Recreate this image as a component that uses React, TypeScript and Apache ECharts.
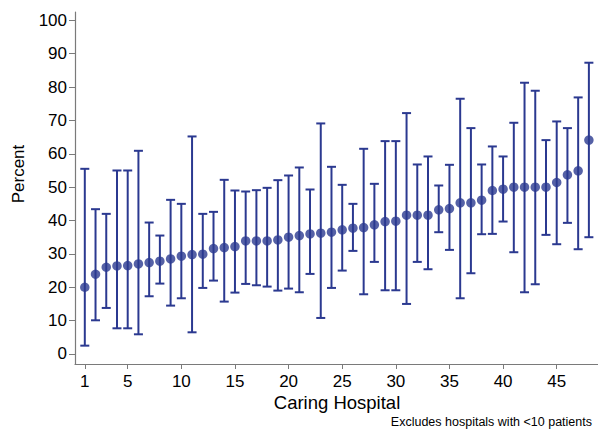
import React, { useEffect, useRef } from "react";
import * as echarts from "echarts";

// Hospital index (ordered by estimated percentage)
const hospitals = [
  1, 2, 3, 4, 5, 6, 7, 8, 9, 10, 11, 12, 13, 14, 15, 16, 17, 18, 19, 20, 21, 22, 23, 24,
  25, 26, 27, 28, 29, 30, 31, 32, 33, 34, 35, 36, 37, 38, 39, 40, 41, 42, 43, 44, 45, 46, 47, 48,
];

// Point estimates (percent)
const estimate = [
  20.0, 23.9, 26.0, 26.4, 26.5, 27.0, 27.4, 27.8, 28.5, 29.3,
  29.8, 29.9, 31.6, 31.9, 32.2, 33.9, 33.9, 33.9, 34.2, 35.0,
  35.5, 36.0, 36.2, 36.5, 37.2, 37.7, 37.9, 38.7, 39.7, 39.8,
  41.6, 41.6, 41.6, 43.2, 43.6, 45.3, 45.3, 46.1, 49.0, 49.4,
  50.0, 50.0, 50.0, 50.0, 51.4, 53.7, 54.9, 64.1,
];

// Lower confidence limits (percent)
const lower = [
  2.5, 10.1, 13.8, 7.7, 7.7, 5.9, 17.3, 21.1, 14.5, 16.7,
  6.5, 19.8, 22.0, 15.7, 18.4, 21.0, 20.6, 20.2, 19.0, 19.6,
  18.5, 24.0, 10.8, 19.8, 25.0, 30.9, 17.9, 27.6, 19.1, 19.1,
  15.0, 27.6, 25.4, 36.5, 31.2, 16.7, 24.2, 35.9, 36.0, 39.7,
  30.5, 18.5, 20.9, 35.7, 32.9, 39.3, 31.4, 35.0,
];

// Upper confidence limits (percent)
const upper = [
  55.5, 43.4, 42.0, 55.0, 55.0, 60.9, 39.4, 35.5, 46.2, 45.0,
  65.2, 42.0, 42.6, 52.2, 49.0, 48.7, 49.1, 49.8, 52.1, 53.5,
  55.9, 49.3, 69.1, 56.1, 50.7, 45.0, 61.5, 51.0, 63.8, 63.8,
  72.2, 56.8, 59.2, 50.5, 56.7, 76.5, 67.7, 56.8, 62.2, 59.2,
  69.3, 81.3, 78.9, 64.1, 69.7, 67.7, 76.9, 87.3,
];

const xTicks = [1, 5, 10, 15, 20, 25, 30, 35, 40, 45];
const yTicks = [0, 10, 20, 30, 40, 50, 60, 70, 80, 90, 100];

const NAVY = "#2b3990";
const AXIS = "#7a7a7a";
const FONT = "'Liberation Sans', Arial, sans-serif";

export default function App() {
  const ref = useRef<HTMLDivElement>(null);

  useEffect(() => {
    if (!ref.current) return;
    const chart = echarts.init(ref.current, null, { renderer: "svg" });

    const barData = hospitals.map((h, i) => [h, lower[i], upper[i]]);
    const pointData = hospitals.map((h, i) => [h, estimate[i]]);

    chart.setOption({
      animation: false,
      backgroundColor: "#ffffff",
      grid: { left: 75, right: 0, top: 12, bottom: 66, containLabel: false },
      xAxis: {
        type: "value",
        min: 0.086,
        max: 48.85,
        splitLine: { show: false },
        axisLine: { show: true, onZero: false, lineStyle: { color: AXIS, width: 1.2 } },
        axisTick: {
          show: true,
          length: 5,
          customValues: xTicks,
          lineStyle: { color: AXIS, width: 1 },
        },
        axisLabel: {
          customValues: xTicks,
          color: "#000",
          fontSize: 17,
          fontFamily: FONT,
          margin: 9,
        },
      },
      yAxis: {
        type: "value",
        min: -3,
        max: 102.5,
        splitLine: { show: false },
        axisLine: { show: true, onZero: false, lineStyle: { color: AXIS, width: 1.2 } },
        axisTick: {
          show: true,
          length: 6,
          customValues: yTicks,
          lineStyle: { color: AXIS, width: 1 },
        },
        axisLabel: {
          customValues: yTicks,
          color: "#000",
          fontSize: 17,
          fontFamily: FONT,
          margin: 8,
        },
      },
      graphic: [
        {
          type: "text",
          x: 18,
          y: 174,
          rotation: Math.PI / 2,
          style: {
            text: "Percent",
            fontSize: 17,
            fontFamily: FONT,
            fill: "#000",
            align: "center",
            verticalAlign: "middle",
          },
        },
        {
          type: "text",
          x: 337,
          y: 402,
          style: {
            text: "Caring Hospital",
            fontSize: 18.5,
            fontFamily: FONT,
            fill: "#000",
            align: "center",
            verticalAlign: "middle",
          },
        },
        {
          type: "text",
          x: 592,
          y: 422,
          style: {
            text: "Excludes hospitals with <10 patients",
            fontSize: 12.5,
            fontFamily: FONT,
            fill: "#000",
            align: "right",
            verticalAlign: "middle",
          },
        },
      ],
      series: [
        {
          type: "custom",
          data: barData,
          encode: { x: 0, y: [1, 2] },
          renderItem: (params: any, api: any) => {
            const x = api.value(0);
            const lo = api.coord([x, api.value(1)]);
            const hi = api.coord([x, api.value(2)]);
            const half = 4.5;
            const style = { stroke: NAVY, lineWidth: 2 };
            return {
              type: "group",
              children: [
                { type: "line", shape: { x1: lo[0], y1: lo[1], x2: hi[0], y2: hi[1] }, style },
                { type: "line", shape: { x1: hi[0] - half, y1: hi[1], x2: hi[0] + half, y2: hi[1] }, style },
                { type: "line", shape: { x1: lo[0] - half, y1: lo[1], x2: lo[0] + half, y2: lo[1] }, style },
              ],
            };
          },
          z: 2,
        },
        {
          type: "scatter",
          data: pointData,
          symbol: "circle",
          symbolSize: 9.5,
          itemStyle: { color: NAVY },
          z: 3,
        },
      ],
    });

    return () => chart.dispose();
  }, []);

  return (
    <div
      ref={ref}
      style={{ position: "absolute", left: 0, top: 0, width: 598, height: 430 }}
    />
  );
}
